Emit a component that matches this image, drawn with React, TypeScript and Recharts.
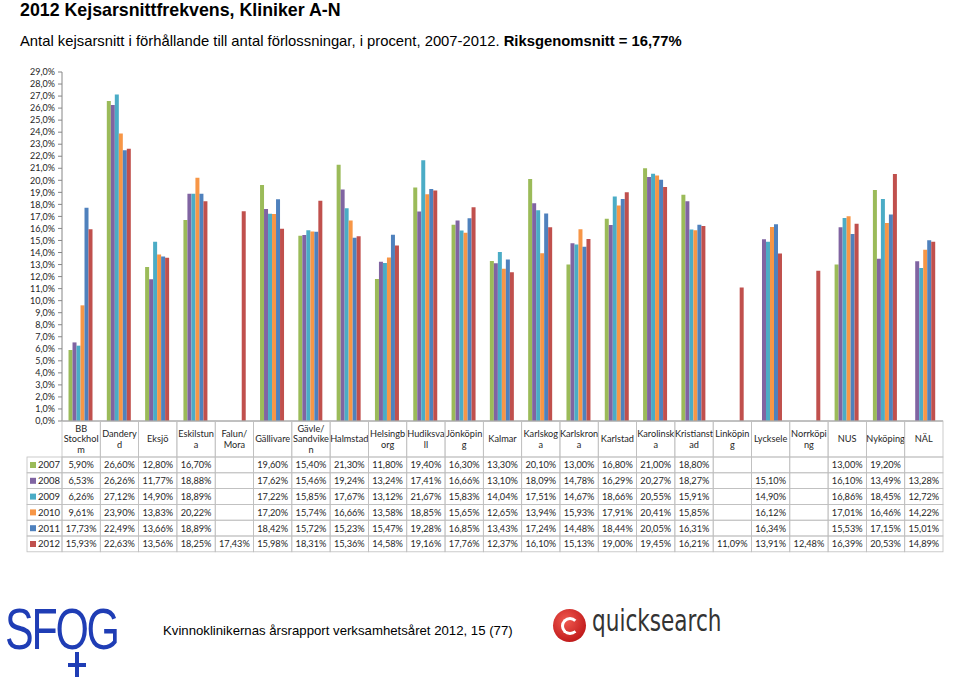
import React from 'react';
import { BarChart, Bar, XAxis, YAxis } from 'recharts';

const clinics = [
  'BB Stockholm', 'Danderyd', 'Eksjö', 'Eskilstuna', 'Falun/Mora', 'Gällivare', 'Gävle/Sandviken',
  'Halmstad', 'Helsingborg', 'Hudiksvall', 'Jönköping', 'Kalmar', 'Karlskoga', 'Karlskrona',
  'Karlstad', 'Karolinska', 'Kristianstad', 'Linköping', 'Lycksele', 'Norrköping', 'NUS',
  'Nyköping', 'NÄL',
];

// wrapped the same way as in the original table
const clinicLabels = [
  ['BB', 'Stockhol', 'm'], ['Dandery', 'd'], ['Eksjö'], ['Eskilstun', 'a'], ['Falun/', 'Mora'],
  ['Gällivare'], ['Gävle/', 'Sandvike', 'n'], ['Halmstad'], ['Helsingb', 'org'], ['Hudiksva', 'll'],
  ['Jönköpin', 'g'], ['Kalmar'], ['Karlskog', 'a'], ['Karlskron', 'a'], ['Karlstad'],
  ['Karolinsk', 'a'], ['Kristianst', 'ad'], ['Linköpin', 'g'], ['Lycksele'], ['Norrköpi', 'ng'],
  ['NUS'], ['Nyköping'], ['NÄL'],
];

const years = ['2007', '2008', '2009', '2010', '2011', '2012'];
const colors = ['#9BBB59', '#8064A2', '#4BACC6', '#F79646', '#4F81BD', '#C0504D'];

const v2007 = [5.90, 26.60, 12.80, 16.70, null, 19.60, 15.40, 21.30, 11.80, 19.40, 16.30, 13.30, 20.10, 13.00, 16.80, 21.00, 18.80, null, null, null, 13.00, 19.20, null];
const v2008 = [6.53, 26.26, 11.77, 18.88, null, 17.62, 15.46, 19.24, 13.24, 17.41, 16.66, 13.10, 18.09, 14.78, 16.29, 20.27, 18.27, null, 15.10, null, 16.10, 13.49, 13.28];
const v2009 = [6.26, 27.12, 14.90, 18.89, null, 17.22, 15.85, 17.67, 13.12, 21.67, 15.83, 14.04, 17.51, 14.67, 18.66, 20.55, 15.91, null, 14.90, null, 16.86, 18.45, 12.72];
const v2010 = [9.61, 23.90, 13.83, 20.22, null, 17.20, 15.74, 16.66, 13.58, 18.85, 15.65, 12.65, 13.94, 15.93, 17.91, 20.41, 15.85, null, 16.12, null, 17.01, 16.46, 14.22];
const v2011 = [17.73, 22.49, 13.66, 18.89, null, 18.42, 15.72, 15.23, 15.47, 19.28, 16.85, 13.43, 17.24, 14.48, 18.44, 20.05, 16.31, null, 16.34, null, 15.53, 17.15, 15.01];
const v2012 = [15.93, 22.63, 13.56, 18.25, 17.43, 15.98, 18.31, 15.36, 14.58, 19.16, 17.76, 12.37, 16.10, 15.13, 19.00, 19.45, 16.21, 11.09, 13.91, 12.48, 16.39, 20.53, 14.89];

const series = [v2007, v2008, v2009, v2010, v2011, v2012];

const yTicks = [0, 1, 2, 3, 4, 5, 6, 7, 8, 9, 10, 11, 12, 13, 14, 15, 16, 17, 18, 19, 20, 21, 22, 23, 24, 25, 26, 27, 28, 29];

const data = clinics.map((name, i) => {
  const row: any = { name };
  years.forEach((y, s) => { row[y] = series[s][i]; });
  return row;
});

const CHART_W = 960;
const MARGIN = { top: 12, right: 17, left: 0, bottom: 8 };
const Y_W = 62;
const BAND = (CHART_W - MARGIN.left - MARGIN.right - Y_W) / clinics.length;
const HEAD_H = 36;
const ROW_H = 15.8;
const LEGEND_W = 35;
const BORDER = '#BFBFBF';
const FONT = 'Lato, "Open Sans", sans-serif';

const pct = (v: number | null) => (v == null ? '' : v.toFixed(2).replace('.', ',') + '%');

const TableColumn = (props: any) => {
  const { x, y, payload } = props;
  const i = payload.index;
  const left = x - BAND / 2;
  const lines = clinicLabels[i];
  const midY = y + HEAD_H / 2;
  return (
    <g fontFamily={FONT} fontSize={9.2} fill="#262626">
      <rect x={left} y={y} width={BAND} height={HEAD_H} fill="none" stroke={BORDER} strokeWidth={0.8} />
      {lines.map((t, k) => (
        <text key={k} x={x} y={midY + (k - (lines.length - 1) / 2) * 10.8 + 3.3} textAnchor="middle">{t}</text>
      ))}
      {series.map((vals, s) => (
        <g key={s}>
          <rect x={left} y={y + HEAD_H + s * ROW_H} width={BAND} height={ROW_H} fill="none" stroke={BORDER} strokeWidth={0.8} />
          <text x={x} y={y + HEAD_H + s * ROW_H + 11.3} textAnchor="middle">{pct(vals[i])}</text>
        </g>
      ))}
      {i === 0 &&
        years.map((yr, s) => (
          <g key={'l' + yr}>
            <rect x={left - LEGEND_W} y={y + HEAD_H + s * ROW_H} width={LEGEND_W} height={ROW_H} fill="none" stroke={BORDER} strokeWidth={0.8} />
            <rect x={left - LEGEND_W + 3} y={y + HEAD_H + s * ROW_H + 5} width={6} height={6} fill={colors[s]} />
            <text x={left - LEGEND_W + 11} y={y + HEAD_H + s * ROW_H + 11.3} fontSize={9.5}>{yr}</text>
          </g>
        ))}
    </g>
  );
};

export default function App() {
  return (
    <div style={{ position: 'absolute', left: 0, top: 0, width: 960, height: 679, background: '#fff', overflow: 'hidden', fontFamily: '"Liberation Sans", Arial, sans-serif' }}>
      <div style={{ position: 'absolute', left: 20, top: 2, fontSize: 17.8, lineHeight: 1, fontWeight: 'bold', color: '#000', whiteSpace: 'nowrap' }}>
        2012 Kejsarsnittfrekvens, Kliniker A-N
      </div>
      <div style={{ position: 'absolute', left: 20, top: 34, fontSize: 14.8, lineHeight: 1, color: '#000', whiteSpace: 'nowrap' }}>
        Antal kejsarsnitt i förhållande till antal förlossningar, i procent, 2007-2012. <b>Riksgenomsnitt = 16,77%</b>
      </div>

      <div style={{ position: 'absolute', left: 0, top: 60 }}>
        <BarChart width={CHART_W} height={500} data={data} margin={MARGIN} barCategoryGap="17%" barGap={0}>
          <YAxis
            width={Y_W}
            domain={[0, 29]}
            ticks={yTicks}
            interval={0}
            tickFormatter={(v: number) => v.toFixed(1).replace('.', ',') + '%'}
            tick={{ fontSize: 9, fill: '#262626', fontFamily: FONT }}
            tickSize={4}
            tickMargin={3}
            stroke="#868686"
            axisLine={{ stroke: '#868686' }}
            tickLine={{ stroke: '#868686' }}
          />
          <XAxis
            dataKey="name"
            height={131}
            interval={0}
            tickSize={0}
            tickMargin={0}
            tickLine={false}
            axisLine={{ stroke: '#868686' }}
            tick={<TableColumn />}
          />
          {years.map((yr, s) => (
            <Bar key={yr} dataKey={yr} fill={colors[s]} isAnimationActive={false} />
          ))}
        </BarChart>
      </div>

      {/* footer */}
      <div style={{ position: 'absolute', left: 5, top: 600, width: 125, height: 79 }}>
        <div style={{ position: 'absolute', left: 0, top: 0, fontFamily: '"Liberation Sans", sans-serif', fontSize: 58, lineHeight: 1, color: '#1F3DB5', transform: 'scaleX(0.74)', transformOrigin: 'left top', letterSpacing: -3 }}>
          SFOG
        </div>
        <div style={{ position: 'absolute', left: 70, top: 52, width: 4, height: 25, background: '#1F3DB5' }} />
        <div style={{ position: 'absolute', left: 63, top: 63, width: 18, height: 4, background: '#1F3DB5' }} />
      </div>
      <div style={{ position: 'absolute', left: 163, top: 624, fontSize: 13.2, lineHeight: 1, color: '#000', whiteSpace: 'nowrap' }}>
        Kvinnoklinikernas årsrapport verksamhetsåret 2012, 15 (77)
      </div>
      <div style={{ position: 'absolute', left: 553, top: 609, width: 33, height: 33, borderRadius: '50%', background: 'radial-gradient(circle at 40% 35%, #F05A50, #C41E1E 70%, #9E1212)' }}>
        <div style={{ position: 'absolute', left: 8, top: 8, width: 12, height: 12, borderRadius: '50%', border: '3px solid #fff', borderRightColor: 'transparent' }} />
      </div>
      <div style={{ position: 'absolute', left: 592, top: 606, fontFamily: '"DejaVu Sans", sans-serif', fontSize: 30, lineHeight: 1, color: '#333', whiteSpace: 'nowrap', transform: 'scaleX(0.72)', transformOrigin: 'left top' }}>
        quicksearch
      </div>
    </div>
  );
}
